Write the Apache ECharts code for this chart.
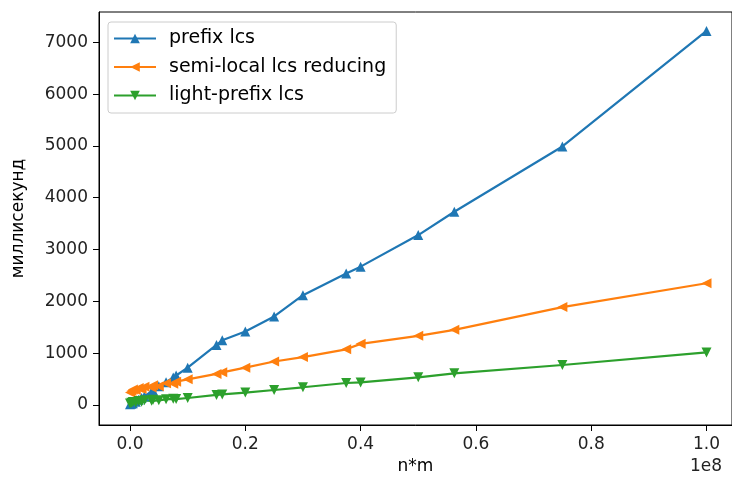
<!DOCTYPE html>
<html>
<head>
<meta charset="utf-8">
<script src="https://cdn.jsdelivr.net/npm/echarts@6/dist/echarts.min.js"></script>
<style>
html,body{margin:0;padding:0;background:#fff;}
#chart{width:732px;height:483px;}
</style>
</head>
<body>
<div id="chart"></div>
<script>
// n*m values (shared by all series)
const nm = [0, 250000, 500000, 1000000, 1500000, 2000000, 2500000, 3750000, 4000000, 5000000, 6250000, 7500000, 8000000, 10000000, 15000000, 16000000, 20000000, 25000000, 30000000, 37500000, 40000000, 50000000, 56250000, 75000000, 100000000];
// milliseconds
const prefixLcs = [15, 25, 35, 65, 100, 135, 170, 260, 280, 360, 440, 530, 570, 720, 1160, 1250, 1420, 1710, 2120, 2540, 2670, 3280, 3730, 4990, 7220];
const semiLocalReducing = [240, 270, 300, 290, 330, 310, 350, 340, 380, 360, 420, 410, 450, 495, 600, 630, 720, 840, 925, 1075, 1180, 1335, 1450, 1890, 2350];
const lightPrefixLcs = [30, 45, 60, 50, 75, 65, 90, 80, 100, 90, 110, 120, 115, 135, 195, 205, 240, 290, 342, 425, 435, 534, 611, 772, 1015];
const xTicks = [0, 20000000, 40000000, 60000000, 80000000, 100000000];
const yTicks = [0, 1000, 2000, 3000, 4000, 5000, 6000, 7000];
const seriesNames = ['prefix lcs', 'semi-local lcs reducing', 'light-prefix lcs'];

const pairs = ys => nm.map((x, i) => [x, ys[i]]);
const font = 'DejaVu Sans';
const fs = 17;
const chart = echarts.init(document.getElementById('chart'));
const mk = (name, ys, color, rot) => ({
  name, type: 'line', data: pairs(ys),
  symbol: 'triangle', symbolSize: 10, symbolRotate: rot,
  showSymbol: true,
  lineStyle: {color, width: 2.2},
  itemStyle: {color, borderWidth: 0},
  emphasis: {disabled: true},
  animation: false
});
chart.setOption({
  animation: false,
  grid: {left: 99, top: 12, width: 633, height: 413, show: true, borderColor: '#000', borderWidth: 1, backgroundColor: 'transparent'},
  xAxis: {
    type: 'value', min: -5380000, max: 104420000,
    name: 'n*m', nameLocation: 'middle', nameGap: 33,
    nameTextStyle: {fontFamily: font, fontSize: fs, color: '#000'},
    axisLine: {onZero: false, lineStyle: {color: '#000', width: 1}},
    axisTick: {show: true, length: 6, customValues: xTicks, lineStyle: {color: '#000'}},
    axisLabel: {customValues: xTicks, formatter: v => (v / 1e8).toFixed(1), fontFamily: font, fontSize: fs, color: '#222', margin: 11},
    splitLine: {show: false}
  },
  yAxis: {
    type: 'value', min: -386, max: 7585,
    name: 'миллисекунд', nameLocation: 'middle', nameGap: 72,
    nameTextStyle: {fontFamily: font, fontSize: fs, color: '#000'},
    axisLine: {onZero: false, lineStyle: {color: '#000', width: 1}},
    axisTick: {show: true, length: 6, customValues: yTicks, lineStyle: {color: '#000'}},
    axisLabel: {customValues: yTicks, formatter: v => String(v), fontFamily: font, fontSize: fs, color: '#222', margin: 11},
    splitLine: {show: false}
  },
  legend: {
    orient: 'vertical', left: 108, top: 22,
    padding: [7, 10, 8, 5], itemWidth: 42, itemHeight: 12, itemGap: 9.5,
    borderColor: '#ccc', borderWidth: 1, borderRadius: 3, backgroundColor: 'rgba(255,255,255,0.8)',
    textStyle: {fontFamily: font, fontSize: 19, color: '#000', padding: [0, 0, 0, 8]},
    data: seriesNames
  },
  graphic: [{
    type: 'text', right: 10, top: 458,
    style: {text: '1e8', font: fs + 'px "DejaVu Sans"', fill: '#222'}
  }],
  series: [
    mk(seriesNames[0], prefixLcs, '#1f77b4', 0),
    mk(seriesNames[1], semiLocalReducing, '#ff7f0e', 90),
    mk(seriesNames[2], lightPrefixLcs, '#2ca02c', 180)
  ]
});
</script>
</body>
</html>
